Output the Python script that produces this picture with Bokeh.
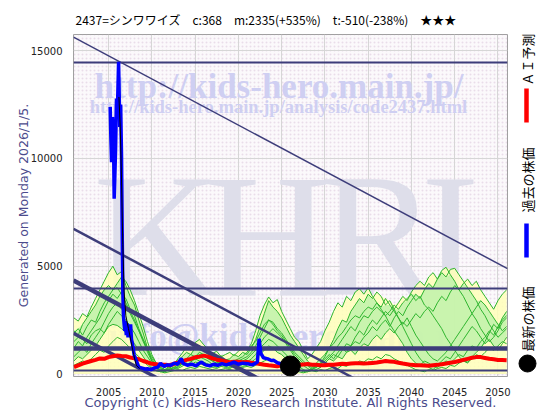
import numpy as np
from bokeh.plotting import figure
from bokeh.models import Range1d, Label, FixedTicker, BoxAnnotation
from bokeh.layouts import row
from bokeh.embed import file_html
from bokeh.resources import INLINE

# ---------------- data ----------------
title_text = "2437=シンワワイズ　c:368　m:2335(+535%)　t:-510(-238%)　★★★"
x_ticks = [2005, 2010, 2015, 2020, 2025, 2030, 2035, 2040, 2045, 2050]
y_ticks = [0, 5000, 10000, 15000]
legend_labels = ["ＡＩ予測", "過去の株価", "最新の株価"]

# half-year grid 2001.0 ... 2051.0
years = [2001.0 + 0.5 * i for i in range(101)]

sA = [2600, 2450, 2800, 2650, 3100, 3500, 3900, 4300, 4700, 5000,
      4600, 4750, 4100, 3600, 3200, 2500, 1900, 1200, 600, 250,
      150, 300, 450, 380, 700, 950, 1250, 1100, 1450, 1600,
      1350, 1150, 950, 1050, 800, 900, 1000, 850, 1050, 1200,
      1100, 1400, 2000, 2700, 3200, 3570, 3300, 3450, 2900, 2500,
      2100, 1700, 1500, 1100, 700, 900, 1200, 1500, 2000, 2400,
      2900, 3300, 3100, 3600, 3400, 3800, 3950, 3700, 4000, 3600,
      3300, 3000, 2700, 2300, 2000, 1700, 1400, 1000, 700, 500,
      400, 600, 500, 350, 300, 450, 600, 500, 700, 900,
      800, 1100, 1300, 1200, 1500, 1700, 2000, 1800, 2200, 2500,
      2700]
sB = [1900, 2100, 1800, 2200, 2500, 2400, 2900, 3300, 3600, 3900,
      4200, 4500, 4300, 3900, 3400, 2800, 2200, 1500, 900, 500,
      300, 200, 350, 500, 600, 800, 1000, 900, 1200, 1300,
      1100, 900, 800, 700, 850, 650, 700, 900, 800, 1000,
      900, 1200, 1600, 2200, 2800, 3400, 3100, 2900, 2600, 2200,
      1800, 1500, 1200, 900, 600, 400, 300, 500, 800, 1200,
      1600, 2100, 2500, 2400, 2900, 3200, 3500, 3300, 3700, 3500,
      3800, 3600, 3200, 3400, 3000, 2600, 2200, 1800, 1400, 1000,
      700, 500, 300, 200, 400, 600, 800, 700, 1000, 1300,
      1600, 1900, 2200, 2000, 1700, 1400, 1600, 1300, 1100, 1400,
      1700]
sC = [1500, 1700, 1600, 1400, 1800, 2000, 2100, 1900, 2200, 2300,
      2250, 2100, 1900, 1700, 1400, 1100, 800, 500, 300, 150,
      100, 150, 200, 300, 400, 500, 650, 600, 800, 900,
      850, 700, 600, 500, 550, 650, 500, 450, 600, 700,
      800, 1000, 1300, 1700, 2100, 2500, 2300, 2000, 1800, 1500,
      1200, 900, 700, 500, 400, 300, 500, 700, 900, 1200,
      1400, 1700, 1900, 2200, 2500, 2700, 2600, 2900, 3100, 3000,
      3300, 3100, 3500, 3200, 2900, 2600, 2300, 2600, 2200, 1800,
      1500, 1200, 900, 700, 600, 800, 1000, 1300, 1600, 1900,
      2200, 2500, 2800, 3100, 3400, 3200, 2900, 2600, 2300, 2000,
      2200]
sD = [2000, 1800, 2300, 2600, 2900, 3200, 3600, 3900, 4100, 3900,
      4000, 3700, 3500, 3000, 2700, 2100, 1600, 1000, 600, 300,
      200, 100, 250, 400, 550, 450, 700, 900, 800, 1000,
      900, 750, 600, 700, 550, 400, 500, 600, 700, 800,
      1000, 1300, 1500, 1900, 2300, 2500, 2400, 2100, 1900, 1600,
      1300, 1000, 800, 600, 400, 200, 300, 450, 600, 800,
      1000, 1300, 1600, 1900, 2200, 2000, 2400, 2700, 2600, 2900,
      3100, 2900, 2700, 2900, 3200, 3000, 3300, 3500, 3700, 3400,
      3600, 3200, 3000, 2700, 2400, 2100, 1700, 1400, 1100, 800,
      600, 500, 800, 1000, 1200, 1500, 1900, 2300, 2100, 2600,
      2900]
sE = [1200, 1500, 1300, 1700, 2000, 2300, 2600, 3000, 3400, 3700,
      3500, 3800, 3300, 2900, 2500, 2000, 1500, 1100, 700, 400,
      250, 150, 300, 200, 350, 500, 600, 750, 650, 800,
      700, 600, 450, 550, 400, 500, 350, 450, 550, 600,
      700, 900, 1100, 1400, 1700, 1900, 2100, 1900, 1700, 1400,
      1100, 800, 600, 400, 250, 150, 200, 300, 500, 700,
      900, 800, 1100, 1400, 1300, 1700, 2000, 1800, 2200, 2500,
      2300, 2600, 2900, 2700, 3000, 3300, 3600, 3400, 3800, 4100,
      4300, 4100, 4500, 4700, 4400, 4800, 4950, 4600, 4300, 3900,
      3600, 3200, 2800, 2500, 2100, 1800, 1500, 1700, 2000, 2400,
      2600]
sF = [800, 1000, 1200, 1000, 1400, 1700, 2000, 2400, 2800, 3100,
      3300, 3000, 3200, 2800, 2400, 2000, 1600, 1200, 800, 500,
      300, 200, 150, 250, 300, 450, 400, 550, 700, 600,
      550, 450, 400, 300, 450, 350, 300, 400, 500, 450,
      550, 700, 900, 1200, 1400, 1600, 1500, 1300, 1100, 900,
      700, 500, 350, 200, 100, 200, 350, 500, 700, 900,
      700, 1000, 1200, 1000, 1300, 1500, 1400, 1700, 1900, 2200,
      2000, 2300, 2500, 2200, 2600, 2900, 2700, 3100, 3400, 3700,
      3500, 3900, 4200, 4000, 4400, 4700, 4500, 4850, 4900, 4600,
      4300, 4000, 3700, 3400, 3000, 2700, 2300, 2000, 1700, 1900,
      2100]
sG = [600, 800, 700, 900, 1100, 1300, 1600, 1900, 2300, 2600,
      2900, 2700, 2500, 2200, 1900, 1500, 1100, 800, 500, 300,
      150, 100, 200, 300, 250, 350, 500, 400, 550, 500,
      400, 350, 300, 250, 350, 300, 250, 350, 400, 350,
      400, 550, 700, 900, 1100, 1300, 1200, 1000, 900, 700,
      500, 350, 200, 100, 150, 250, 400, 300, 500, 700,
      600, 800, 700, 1000, 1100, 900, 1200, 1400, 1300, 1600,
      1800, 1600, 1900, 2100, 1900, 2200, 2400, 2200, 2500, 2800,
      2600, 2900, 3100, 2900, 3300, 3600, 3400, 3800, 4100, 3900,
      4200, 4400, 4100, 4300, 3900, 3600, 3300, 3000, 3400, 3700,
      3900]
sH = [400, 500, 600, 550, 700, 900, 1100, 1000, 1300, 1500,
      1700, 1600, 1400, 1200, 1000, 800, 600, 400, 250, 150,
      100, 50, 100, 150, 200, 150, 250, 300, 250, 350,
      300, 250, 200, 150, 200, 250, 200, 150, 250, 300,
      350, 300, 400, 500, 600, 700, 650, 550, 450, 350,
      250, 150, 100, 50, 100, 150, 100, 200, 150, 250,
      300, 250, 400, 350, 500, 450, 600, 550, 700, 650,
      800, 700, 900, 850, 700, 600, 500, 400, 300, 200,
      150, 100, 200, 150, 250, 300, 250, 400, 350, 500,
      600, 550, 700, 900, 800, 1000, 1200, 1100, 1300, 1500,
      1400]
scenarios = [sA, sB, sC, sD, sE, sF, sG, sH]

ai_forecast = [320, 400, 480, 540, 600, 650, 720, 700, 780, 820,
               850, 830, 820, 760, 720, 680, 600, 540, 470, 450,
               420, 430, 400, 460, 520, 580, 650, 700, 770, 800,
               850, 800, 720, 660, 620, 580, 540, 560, 560, 540,
               550, 520, 490, 460, 430, 400, 380, 350, 400, 380,
               400, 420, 420, 440, 460, 430, 420, 400, 400, 420,
               430, 450, 470, 460, 480, 500, 500, 480, 490, 510,
               530, 560, 600, 580, 560, 520, 480, 450, 420, 400,
               400, 390, 380, 400, 420, 450, 480, 520, 550, 600,
               650, 700, 750, 780, 780, 740, 700, 680, 650, 640,
               630]

past_x = [2005.19, 2005.27, 2005.35, 2005.46, 2005.58, 2005.65, 2005.73, 2005.81,
          2005.92, 2006.04, 2006.16, 2006.23, 2006.30, 2006.40, 2006.50, 2006.58,
          2006.65, 2006.72, 2006.80, 2006.88, 2006.95, 2007.05, 2007.15, 2007.25,
          2007.35, 2007.45, 2007.55, 2007.65, 2007.80, 2007.95, 2008.20, 2008.50,
          2008.80, 2009.20, 2009.50, 2009.90, 2010.30, 2010.70, 2011.00, 2011.40,
          2011.80, 2012.20, 2012.60, 2013.00, 2013.40, 2013.60, 2014.10, 2014.60,
          2015.10, 2015.70, 2016.20, 2016.70, 2017.20, 2017.60, 2018.10, 2018.60,
          2019.00, 2019.50, 2020.00, 2020.50, 2021.10, 2021.60, 2022.00, 2022.20,
          2022.40, 2022.60, 2022.90, 2023.40, 2023.80, 2024.10, 2024.50, 2024.90,
          2025.30, 2025.70, 2026.00]
past_y = [12390, 10900, 9830, 11920, 10690, 8130, 9200, 10380,
          12780, 12470, 14480, 13000, 11460, 12500, 10070, 6500,
          3800, 2700, 2300, 2000, 2450, 1800, 2350, 1700,
          2200, 1900, 2300, 1600, 1320, 900, 630, 315,
          280, 230, 240, 200, 280, 315, 490, 350,
          420, 400, 500, 450, 720, 500, 400, 450,
          380, 550, 420, 380, 450, 400, 480, 420,
          470, 550, 450, 500, 470, 420, 500, 550,
          1630, 950, 750, 700, 620, 630, 520, 470,
          450, 390, 368]

trend_x = [2006.20, 2006.35, 2006.50, 2006.65, 2006.80, 2007.00, 2007.30,
           2007.60, 2007.90, 2008.20, 2008.60]
trend_y = [12850, 11500, 9000, 6000, 3800, 2700, 2100, 1500, 900, 400, 250]

latest_x = [2026.0]
latest_y = [368]

h_levels = [14470, 3960, 1200, 150]
h_widths = [2, 2, 4.5, 2]
diag_x0 = [2000.95, 2000.95, 2000.95, 2000.95]
diag_y0 = [15625, 6730, 4340, 1880]
diag_x1 = [2051.1, 2051.1, 2051.1, 2051.1]
diag_y1 = [4885, -4000, -6390, -8850]
diag_w = [1.5, 2.5, 4.5, 3.5]

# ---------------- styling ----------------
NAVY = "#3d3d7a"
WM = "#cfcff2"
TXT = "#4b4b8c"

p = figure(width=516, height=420, output_backend="svg", toolbar_location=None,
           x_range=Range1d(2000.95, 2051.1), y_range=Range1d(-120, 15750),
           min_border_left=73, min_border_right=9, min_border_top=34,
           min_border_bottom=44)
p.background_fill_color = "#fbf9fb"
p.border_fill_color = "white"
p.outline_line_color = "#a0a0a0"
p.add_layout(BoxAnnotation(fill_alpha=0, line_alpha=0, hatch_pattern=".",
                           hatch_color="#c8a8c8", hatch_scale=4, hatch_alpha=0.35,
                           level="image"))

p.title.text = title_text
p.title.text_font = "Noto Sans CJK JP"
p.title.text_font_size = "12px"
p.title.text_font_style = "normal"
p.title.text_color = "#000000"
p.title.align = "left"
p.title.offset = 2
p.title.standoff = 14

for ax in (p.xaxis, p.yaxis):
    ax.axis_line_color = None
    ax.major_tick_line_color = None
    ax.minor_tick_line_color = None
    ax.major_label_text_font = "DejaVu Sans"
    ax.major_label_text_font_size = "10px"
    ax.major_label_text_color = "#222222"
    ax.major_label_standoff = 5
    ax.axis_label_text_font = "DejaVu Sans"
    ax.axis_label_text_font_style = "normal"
    ax.axis_label_text_color = TXT
p.xaxis.ticker = FixedTicker(ticks=x_ticks)
p.yaxis.ticker = FixedTicker(ticks=y_ticks)
p.xgrid.grid_line_color = "#d6d6d6"
p.ygrid.grid_line_color = "#d6d6d6"

p.xaxis.axis_label = "Copyright (c) Kids-Hero Research Institute. All Rights Reserved."
p.xaxis.axis_label_text_font_size = "13px"
p.xaxis.axis_label_standoff = -4
p.yaxis.axis_label = "Generated on Monday 2026/1/5."
p.yaxis.axis_label_text_font_size = "12.5px"
p.yaxis.axis_label_standoff = -3

# watermarks
for txt, xx, yy, size, al in [("http://kids-hero.main.jp/", 2024.70, 13337, "35px", "center"),
                              ("http://kids-hero.main.jp/analysis/code2437.html", 2024.64, 12364, "18.5px", "center"),
                              ("info@kids-hero.main.jp", 2004.99, 1737, "35px", "left")]:
    p.add_layout(Label(x=xx, y=yy, text=txt, text_align=al, text_baseline="alphabetic",
                       text_font="Liberation Serif", text_font_style="bold",
                       text_font_size=size, text_color=WM, level="underlay"))
for ch, xx in [("K", 2010.6), ("H", 2023.4), ("R", 2036.2), ("I", 2044.5)]:
    p.add_layout(Label(x=xx, y=6424, text=ch, text_align="center", text_baseline="alphabetic",
                       text_font="Liberation Serif", text_font_size="176px",
                       text_color="#dedeea", level="underlay"))

# scenario bands
S = np.sort(np.array(scenarios, dtype=float), axis=0)
p.varea(x=years, y1=0, y2=S[-1], fill_color="#ffffb8", fill_alpha=0.85)
p.varea(x=years, y1=S[1], y2=S[-2], fill_color="#bff2aa", fill_alpha=0.85)
for s in scenarios:
    p.line(years, s, line_color="#2fb52f", line_width=1)

# trend / level lines
p.hspan(y=h_levels, line_width=h_widths, line_color=NAVY)
p.segment(x0=diag_x0, y0=diag_y0, x1=diag_x1, y1=diag_y1, line_width=diag_w, line_color=NAVY)

p.line(years, ai_forecast, line_color="#ff0000", line_width=4)
p.line(past_x, past_y, line_color="#0000ff", line_width=3.5)
p.line(trend_x, trend_y, line_color="#000000", line_width=1)
p.scatter(latest_x, latest_y, size=20, color="#000000")

# right-hand legend (rotated); its frame is aligned with the main frame -> y in screen px
q = figure(width=44, height=420, output_backend="svg", toolbar_location=None,
           x_range=Range1d(0, 44), y_range=Range1d(376, 34), min_border=0)
q.title.text = ""
q.axis.visible = False
q.grid.visible = False
q.outline_line_color = None
q.background_fill_color = "white"
for lab, yy in zip(legend_labels, [85, 212, 351]):
    q.add_layout(Label(x=11, y=yy, text=lab, angle=np.pi / 2, text_align="left",
                       text_baseline="middle", text_font="Noto Sans CJK JP",
                       text_font_size="13px", text_color="#000000"))
q.segment(x0=[10, 10], y0=[88, 223], x1=[10, 10], y1=[122, 257],
          line_color=["#ff0000", "#0000ff"], line_width=4.5)
q.scatter(x=[11], y=[363], size=17, color="#000000")

layout = row(p, q)
open("out.html", "w").write(file_html(layout, INLINE))
